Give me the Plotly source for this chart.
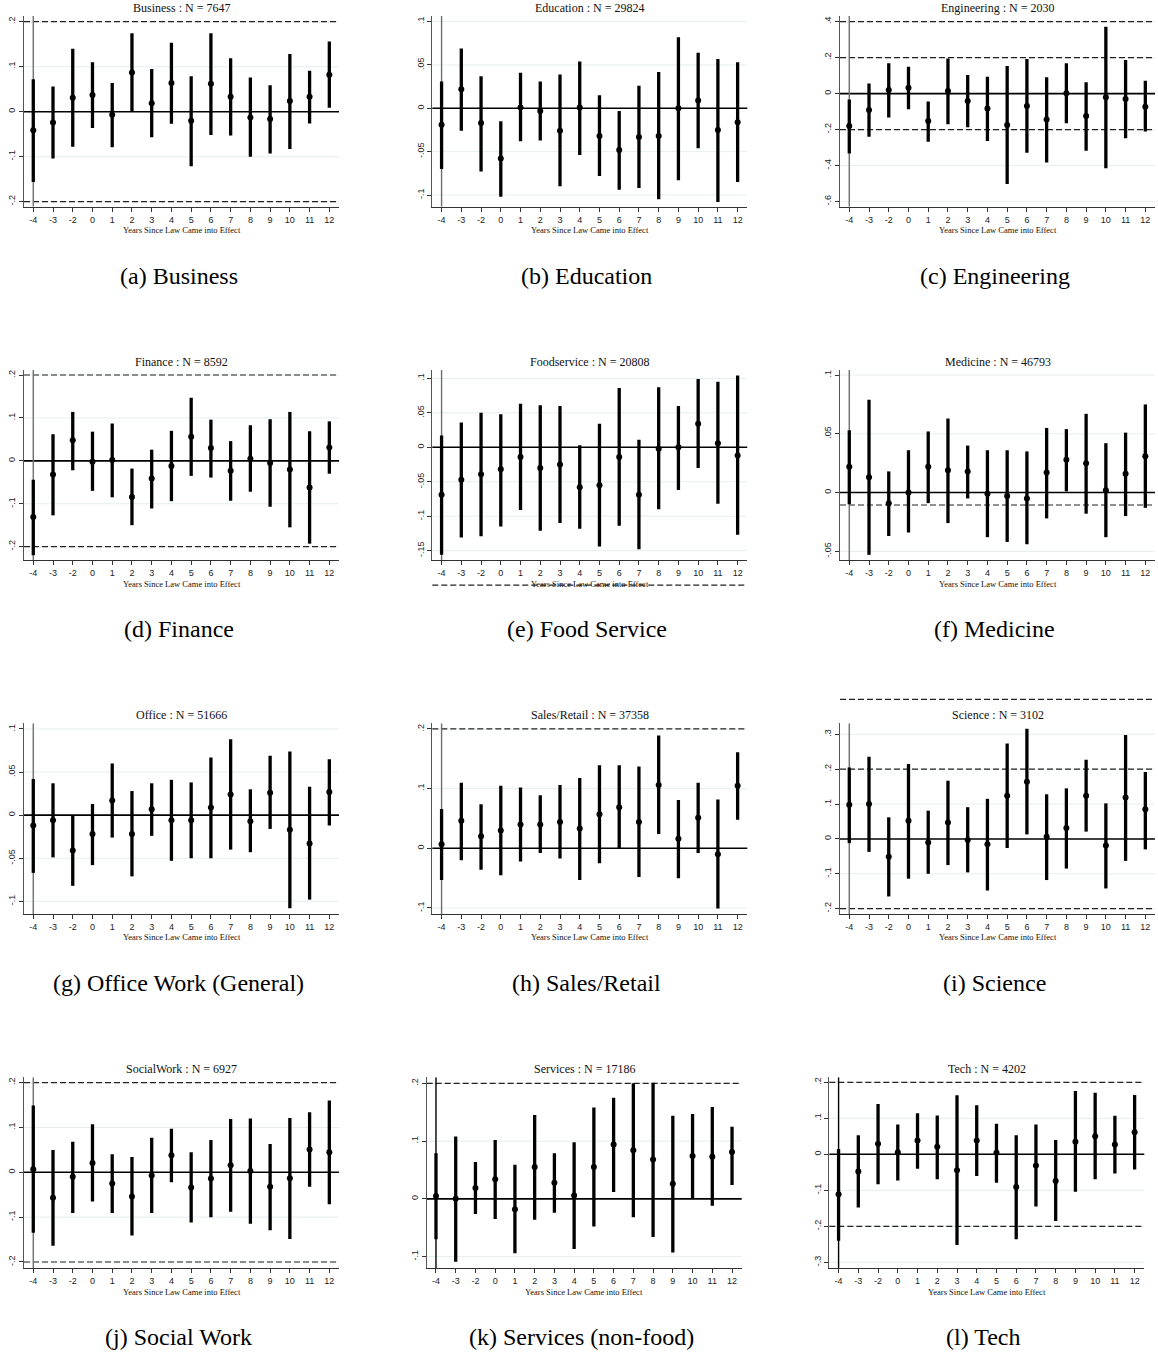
import plotly.graph_objects as go

W, H = 1158, 1355

years = ["-4", "-3", "-2", "0", "1", "2", "3", "4", "5", "6", "7", "8", "9", "10", "11", "12"]

# ---- data: point estimates and 95% CI bounds ----
business_est = [-0.041, -0.024, 0.031, 0.037, -0.007, 0.087, 0.019, 0.064, -0.020, 0.062, 0.033, -0.013, -0.016, 0.024, 0.033, 0.082]
business_hi = [0.072, 0.056, 0.140, 0.110, 0.064, 0.174, 0.095, 0.153, 0.079, 0.174, 0.119, 0.076, 0.059, 0.128, 0.091, 0.156]
business_lo = [-0.156, -0.104, -0.078, -0.036, -0.079, 0.000, -0.057, -0.027, -0.121, -0.052, -0.053, -0.100, -0.093, -0.083, -0.026, 0.009]

education_est = [-0.019, 0.022, -0.017, -0.058, 0.001, -0.003, -0.026, 0.001, -0.032, -0.048, -0.033, -0.032, 0.000, 0.009, -0.025, -0.016]
education_hi = [0.031, 0.069, 0.037, -0.015, 0.041, 0.031, 0.039, 0.054, 0.015, -0.003, 0.026, 0.042, 0.082, 0.064, 0.057, 0.053]
education_lo = [-0.070, -0.026, -0.073, -0.102, -0.038, -0.037, -0.090, -0.054, -0.078, -0.094, -0.092, -0.105, -0.083, -0.046, -0.108, -0.085]

engineering_est = [-0.180, -0.091, 0.020, 0.033, -0.152, 0.015, -0.041, -0.083, -0.174, -0.069, -0.143, 0.002, -0.124, -0.020, -0.030, -0.072]
engineering_hi = [-0.032, 0.057, 0.169, 0.150, -0.043, 0.196, 0.104, 0.094, 0.154, 0.193, 0.091, 0.169, 0.063, 0.372, 0.187, 0.072]
engineering_lo = [-0.332, -0.239, -0.132, -0.087, -0.267, -0.170, -0.187, -0.263, -0.502, -0.328, -0.383, -0.165, -0.317, -0.415, -0.248, -0.210]

finance_est = [-0.131, -0.032, 0.048, -0.002, 0.002, -0.084, -0.041, -0.012, 0.056, 0.030, -0.023, 0.005, -0.005, -0.020, -0.062, 0.031]
finance_hi = [-0.044, 0.062, 0.114, 0.068, 0.087, -0.018, 0.026, 0.070, 0.147, 0.096, 0.046, 0.083, 0.097, 0.114, 0.069, 0.092]
finance_lo = [-0.220, -0.127, -0.022, -0.070, -0.085, -0.150, -0.111, -0.094, -0.035, -0.039, -0.093, -0.072, -0.107, -0.155, -0.193, -0.030]

food_est = [-0.069, -0.047, -0.039, -0.032, -0.014, -0.030, -0.025, -0.058, -0.055, -0.014, -0.069, -0.002, 0.000, 0.034, 0.006, -0.012]
food_hi = [0.017, 0.036, 0.050, 0.048, 0.063, 0.061, 0.060, 0.003, 0.034, 0.086, 0.011, 0.087, 0.060, 0.099, 0.095, 0.104]
food_lo = [-0.156, -0.131, -0.129, -0.115, -0.091, -0.121, -0.110, -0.118, -0.144, -0.114, -0.148, -0.090, -0.062, -0.030, -0.082, -0.127]

medicine_est = [0.022, 0.013, -0.009, 0.000, 0.022, 0.019, 0.018, -0.001, -0.003, -0.005, 0.017, 0.028, 0.025, 0.002, 0.016, 0.031]
medicine_hi = [0.053, 0.079, 0.018, 0.036, 0.052, 0.063, 0.040, 0.036, 0.036, 0.035, 0.055, 0.054, 0.067, 0.042, 0.051, 0.075]
medicine_lo = [-0.010, -0.053, -0.037, -0.034, -0.009, -0.026, -0.005, -0.038, -0.042, -0.044, -0.022, 0.001, -0.018, -0.038, -0.020, -0.013]

office_est = [-0.012, -0.006, -0.041, -0.022, 0.017, -0.022, 0.007, -0.006, -0.006, 0.009, 0.024, -0.007, 0.026, -0.017, -0.033, 0.027]
office_hi = [0.042, 0.037, 0.000, 0.013, 0.060, 0.028, 0.037, 0.041, 0.038, 0.067, 0.088, 0.030, 0.069, 0.074, 0.033, 0.065]
office_lo = [-0.067, -0.049, -0.082, -0.058, -0.026, -0.071, -0.024, -0.053, -0.050, -0.050, -0.040, -0.043, -0.016, -0.108, -0.098, -0.012]

sales_est = [0.007, 0.046, 0.020, 0.030, 0.040, 0.040, 0.044, 0.033, 0.057, 0.069, 0.044, 0.106, 0.016, 0.051, -0.010, 0.105]
sales_hi = [0.066, 0.110, 0.074, 0.105, 0.102, 0.089, 0.106, 0.118, 0.139, 0.139, 0.137, 0.189, 0.081, 0.110, 0.082, 0.161]
sales_lo = [-0.053, -0.020, -0.036, -0.045, -0.022, -0.008, -0.017, -0.053, -0.025, -0.001, -0.048, 0.024, -0.050, -0.008, -0.101, 0.048]

science_est = [0.098, 0.100, -0.051, 0.052, -0.010, 0.047, -0.003, -0.015, 0.124, 0.164, 0.006, 0.031, 0.124, -0.019, 0.119, 0.085]
science_hi = [0.205, 0.236, 0.062, 0.215, 0.081, 0.167, 0.091, 0.115, 0.274, 0.316, 0.128, 0.145, 0.227, 0.102, 0.298, 0.192]
science_lo = [-0.012, -0.037, -0.165, -0.114, -0.100, -0.075, -0.096, -0.148, -0.026, 0.013, -0.118, -0.085, 0.021, -0.142, -0.063, -0.030]

social_est = [0.007, -0.057, -0.010, 0.021, -0.025, -0.054, -0.007, 0.038, -0.034, -0.014, 0.016, 0.003, -0.032, -0.013, 0.051, 0.045]
social_hi = [0.149, 0.050, 0.068, 0.107, 0.040, 0.034, 0.077, 0.097, 0.045, 0.072, 0.119, 0.120, 0.063, 0.121, 0.134, 0.160]
social_lo = [-0.135, -0.164, -0.091, -0.065, -0.091, -0.141, -0.091, -0.022, -0.112, -0.100, -0.088, -0.115, -0.129, -0.149, -0.032, -0.071]

services_est = [0.005, 0.000, 0.019, 0.034, -0.018, 0.055, 0.028, 0.006, 0.055, 0.094, 0.084, 0.068, 0.026, 0.074, 0.073, 0.081]
services_hi = [0.079, 0.108, 0.064, 0.102, 0.059, 0.145, 0.079, 0.098, 0.158, 0.175, 0.200, 0.201, 0.144, 0.147, 0.159, 0.125]
services_lo = [-0.070, -0.109, -0.026, -0.035, -0.094, -0.036, -0.024, -0.087, -0.048, 0.012, -0.032, -0.066, -0.093, 0.000, -0.012, 0.024]

tech_est = [-0.111, -0.048, 0.029, 0.006, 0.038, 0.021, -0.044, 0.038, 0.004, -0.091, -0.031, -0.074, 0.035, 0.050, 0.027, 0.061]
tech_hi = [0.015, 0.053, 0.140, 0.083, 0.114, 0.108, 0.164, 0.136, 0.085, 0.053, 0.083, 0.040, 0.176, 0.171, 0.107, 0.165]
tech_lo = [-0.240, -0.148, -0.083, -0.073, -0.040, -0.069, -0.252, -0.060, -0.079, -0.236, -0.145, -0.185, -0.104, -0.069, -0.053, -0.042]

titles = ["Business : N = 7647", "Education : N = 29824", "Engineering : N = 2030",
          "Finance : N = 8592", "Foodservice : N = 20808", "Medicine : N = 46793",
          "Office : N = 51666", "Sales/Retail : N = 37358", "Science : N = 3102",
          "SocialWork : N = 6927", "Services : N = 17186", "Tech : N = 4202"]
captions = ["(a) Business", "(b) Education", "(c) Engineering",
            "(d) Finance", "(e) Food Service", "(f) Medicine",
            "(g) Office Work (General)", "(h) Sales/Retail", "(i) Science",
            "(j) Social Work", "(k) Services (non-food)", "(l) Tech"]
y_ticks = [[-0.2, -0.1, 0, 0.1, 0.2], [-0.1, -0.05, 0, 0.05, 0.1], [-0.6, -0.4, -0.2, 0, 0.2, 0.4],
           [-0.2, -0.1, 0, 0.1, 0.2], [-0.15, -0.1, -0.05, 0, 0.05, 0.1], [-0.05, 0, 0.05, 0.1],
           [-0.1, -0.05, 0, 0.05, 0.1], [-0.1, 0, 0.1, 0.2], [-0.2, -0.1, 0, 0.1, 0.2, 0.3],
           [-0.2, -0.1, 0, 0.1, 0.2], [-0.1, 0, 0.1, 0.2], [-0.3, -0.2, -0.1, 0, 0.1, 0.2]]
y_ranges = [[-0.2111, 0.2126], [-0.1135, 0.1065], [-0.628, 0.4315],
            [-0.2311, 0.2117], [-0.1635, 0.1121], [-0.0574, 0.1043],
            [-0.1147, 0.1066], [-0.1101, 0.2095], [-0.2153, 0.3316],
            [-0.2141, 0.2119], [-0.1202, 0.2104], [-0.3167, 0.2139]]
ref_lines = [[0.2, -0.2], [], [0.4, 0.2, -0.2],
             [0.2, -0.2], [-0.2], [-0.0106],
             [], [0.2], [0.4, 0.2, -0.2],
             [0.2, -0.2], [0.2], [0.2, -0.2]]

series = [(business_est, business_lo, business_hi), (education_est, education_lo, education_hi),
          (engineering_est, engineering_lo, engineering_hi), (finance_est, finance_lo, finance_hi),
          (food_est, food_lo, food_hi), (medicine_est, medicine_lo, medicine_hi),
          (office_est, office_lo, office_hi), (sales_est, sales_lo, sales_hi),
          (science_est, science_lo, science_hi), (social_est, social_lo, social_hi),
          (services_est, services_lo, services_hi), (tech_est, tech_lo, tech_hi)]

# ---- layout geometry (pixels) ----
col_left = [[24, 432.3, 840], [24, 432.3, 840], [24, 432.3, 840], [24, 426.7, 829.3]]
row_top = [16, 370, 723.3, 1077.3]
row_bot = [206.7, 560, 914, 1268.3]
PW = 315


def fmt(v):
    if v == 0:
        return "0"
    s = f"{v:g}"
    return s.replace("0.", ".")


fig = go.Figure()
shapes, annotations = [], []
layout_axes = {}

for i in range(12):
    r, c = divmod(i, 3)
    k = i + 1
    xa = "x" if k == 1 else f"x{k}"
    ya = "y" if k == 1 else f"y{k}"
    xkey = "xaxis" if k == 1 else f"xaxis{k}"
    ykey = "yaxis" if k == 1 else f"yaxis{k}"
    left = col_left[r][c]
    right = left + PW
    top, bot = row_top[r], row_bot[r]
    est, lo, hi = series[i]
    ymin, ymax = y_ranges[i]
    vcol = "#000000" if i >= 10 else "#6f6f6f"

    def frac(v):
        return (v - ymin) / (ymax - ymin)

    # faint gridlines (non-zero ticks)
    for v in y_ticks[i]:
        if v != 0:
            shapes.append(dict(type="line", xref=f"{xa} domain", yref=f"{ya} domain", x0=0, x1=1,
                               y0=frac(v), y1=frac(v), line=dict(color="#e4eeef", width=1), layer="below"))
    # vertical line at year 0
    shapes.append(dict(type="line", xref=xa, yref=ya, x0="0", x1="0", y0=ymin, y1=ymax,
                       line=dict(color=vcol, width=1.4), layer="below"))
    # horizontal zero line
    shapes.append(dict(type="line", xref=f"{xa} domain", yref=f"{ya} domain", x0=0, x1=1,
                       y0=frac(0), y1=frac(0), line=dict(color="#000000", width=1.6), layer="below"))
    # dashed reference lines
    for v in ref_lines[i]:
        shapes.append(dict(type="line", xref=f"{xa} domain", yref=f"{ya} domain", x0=0, x1=1,
                           y0=frac(v), y1=frac(v), line=dict(color="#222222", width=1.2, dash="6px,3px"),
                           layer="below"))

    fig.add_trace(go.Scatter(
        x=years, y=est, mode="markers", xaxis=xa, yaxis=ya, showlegend=False,
        marker=dict(color="black", size=6),
        error_y=dict(type="data", symmetric=False,
                     array=[h - e for h, e in zip(hi, est)],
                     arrayminus=[e - l for e, l in zip(est, lo)],
                     color="black", thickness=3.3, width=0),
    ))

    layout_axes[xkey] = dict(
        domain=[left / W, right / W], anchor=ya, type="category",
        categoryorder="array", categoryarray=years,
        range=[-0.47, 15.49], showgrid=False, zeroline=False,
        showline=True, linecolor="#333333", linewidth=1.2,
        ticks="outside", ticklen=4, tickcolor="#333333",
        tickfont=dict(family="Liberation Sans", size=9, color="#222222"),
        tickvals=years, ticktext=years, fixedrange=True,
    )
    layout_axes[ykey] = dict(
        domain=[1 - bot / H, 1 - top / H], anchor=xa, range=[ymin, ymax],
        tickvals=y_ticks[i], ticktext=[fmt(v) for v in y_ticks[i]], tickangle=-90,
        showgrid=False, zeroline=False,
        showline=True, linecolor="#555555", linewidth=1.2,
        ticks="outside", ticklen=4, tickcolor="#333333",
        tickfont=dict(family="Liberation Sans", size=9, color="#222222"), fixedrange=True,
    )

    cx = (left + right) / 2
    annotations.append(dict(text=titles[i], xref="paper", yref="paper", x=cx / W, y=1 - (top - 8.5) / H,
                            xanchor="center", yanchor="middle", showarrow=False,
                            font=dict(family="Liberation Serif", size=12, color="#111111")))
    annotations.append(dict(text="Years Since Law Came into Effect", xref="paper", yref="paper",
                            x=cx / W, y=1 - (bot + 23.5) / H, xanchor="center", yanchor="middle",
                            showarrow=False, font=dict(family="Liberation Serif", size=8.5, color="#111111")))
    annotations.append(dict(text=captions[i], xref="paper", yref="paper", x=(cx - 3) / W, y=1 - (bot + 69) / H,
                            xanchor="center", yanchor="middle", showarrow=False,
                            font=dict(family="Liberation Serif", size=24, color="#000000")))

fig.update_layout(
    width=W, height=H, margin=dict(l=0, r=0, t=0, b=0),
    paper_bgcolor="white", plot_bgcolor="white",
    shapes=shapes, annotations=annotations, **layout_axes,
)

fig.write_html("out.html", config={"displayModeBar": False},
               post_script="document.body.style.margin='0';document.body.style.padding='0';")
